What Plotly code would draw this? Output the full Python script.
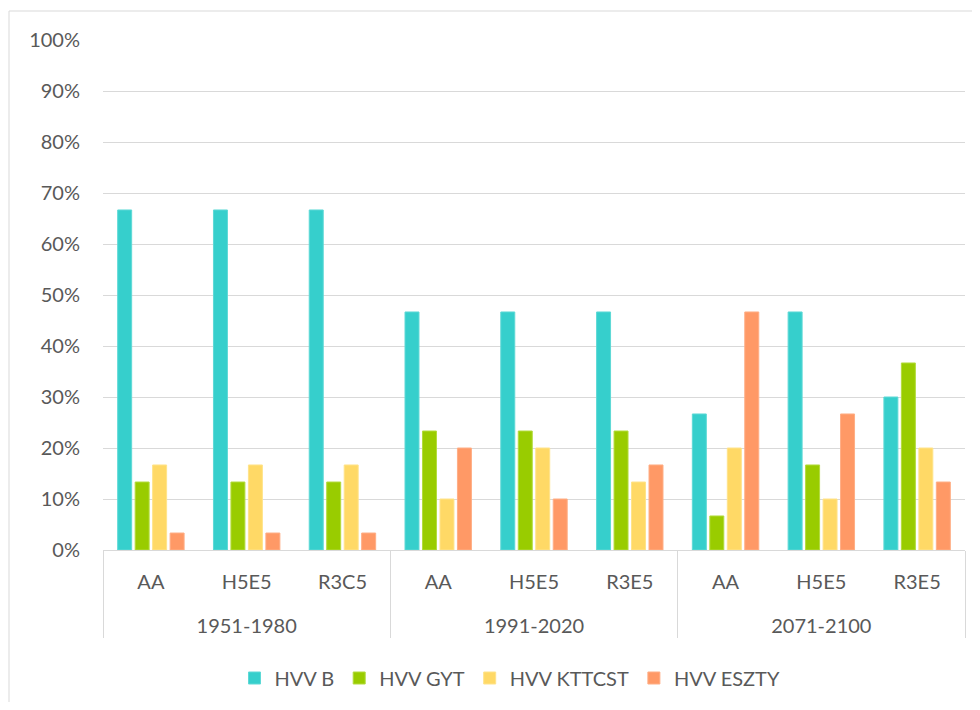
import plotly.graph_objects as go

periods = ["1951-1980"] * 3 + ["1991-2020"] * 3 + ["2071-2100"] * 3
scenarios = ["AA", "H5E5", "R3C5", "AA", "H5E5", "R3E5", "AA", "H5E5", "R3E5"]

hvv_b = [0.6667, 0.6667, 0.6667, 0.4667, 0.4667, 0.4667, 0.2667, 0.4667, 0.30]
hvv_gyt = [0.1333, 0.1333, 0.1333, 0.2333, 0.2333, 0.2333, 0.0667, 0.1667, 0.3667]
hvv_kttcst = [0.1667, 0.1667, 0.1667, 0.10, 0.20, 0.1333, 0.20, 0.10, 0.20]
hvv_eszty = [0.0333, 0.0333, 0.0333, 0.20, 0.10, 0.1667, 0.4667, 0.2667, 0.1333]

series = [
    ("HVV B", hvv_b, "#36CFCC", "#5ED9D6"),
    ("HVV GYT", hvv_gyt, "#99CC00", "#B3DB3D"),
    ("HVV KTTCST", hvv_kttcst, "#FFD966", "#FFE38A"),
    ("HVV ESZTY", hvv_eszty, "#FF9966", "#FFAE85"),
]

font = "Lato, Calibri, 'Liberation Sans', sans-serif"
OFF = 8  # page body margin
W, H = 980 - OFF * 2, 710 - OFF * 2
L, T = 103 - OFF, 40 - OFF
R = W - (965 - OFF)
B = H - (550 - OFF)
PW, PH = W - L - R, H - T - B

def px(x):
    return (x - OFF - L) / PW

def py(y):
    return (H - B - (y - OFF)) / PH

# extra blank line under the scenario labels to open up the gap to the period row
scen_lbl = [s + "<br><span style='font-size:45px'>\u00a0</span>" for s in scenarios]

fig = go.Figure()
for name, vals, col, edge in series:
    fig.add_trace(go.Bar(
        x=[periods, scen_lbl], y=vals, name=name,
        marker=dict(color=col, line=dict(color=edge, width=1)),
    ))

fig.update_layout(
    width=W, height=H,
    margin=dict(l=L, r=R, t=T, b=B, autoexpand=False),
    paper_bgcolor="white", plot_bgcolor="white",
    barmode="group", bargap=0.27, bargroupgap=0.2,
    font=dict(family=font, size=20, color="#595959"),
    showlegend=True,
    legend=dict(orientation="h", x=px(510), xanchor="center", y=py(678), yanchor="middle",
                font=dict(size=20, color="#595959"), itemwidth=30,
                traceorder="normal"),
    yaxis=dict(range=[0, 1.0], dtick=0.1, tickformat=".0%",
               showgrid=True, gridcolor="#D9D9D9", gridwidth=1,
               zeroline=False, showline=False, ticks="", ticklabelstandoff=22,
               tickfont=dict(size=20, color="#595959"), fixedrange=True),
    xaxis=dict(type="multicategory", showline=True, linecolor="#D9D9D9", linewidth=1,
               showdividers=True, dividercolor="#D9D9D9", dividerwidth=1,
               ticks="", ticklabelstandoff=14,
               tickfont=dict(size=20, color="#595959"), fixedrange=True),
    shapes=[dict(type="rect", xref="paper", yref="paper",
                 x0=px(9), x1=px(975), y0=py(707), y1=py(11),
                 line=dict(color="#D9D9D9", width=1), fillcolor="rgba(0,0,0,0)", layer="below")],
)

fig.write_html("out.html")
